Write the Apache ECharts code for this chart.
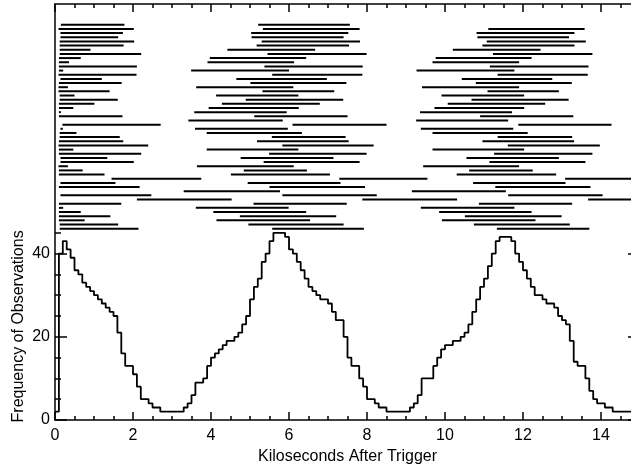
<!DOCTYPE html>
<html>
<head>
<meta charset="utf-8">
<script src="https://cdn.jsdelivr.net/npm/echarts@6/dist/echarts.min.js"></script>
<style>
html,body{margin:0;padding:0;background:#fff;}
#chart{width:631px;height:465px;}
</style>
</head>
<body>
<div id="chart"></div>
<script>
// ---------------- data ----------------
// x-axis tick labels (kiloseconds after trigger)
var xTicks = [0, 2, 4, 6, 8, 10, 12, 14];
// y-axis tick labels (frequency)
var yTicks = [0, 20, 40];

// histogram: frequency of observations, bins of 0.1 ks starting at 0
var binWidth = 0.1;
var freq = [
  2, 40, 43, 41, 39, 36, 35, 33, 32, 31,
  30, 29, 28, 27, 26, 25, 21, 16, 13, 13,
  11, 8, 5, 5, 4, 3, 3, 2, 2, 2,
  2, 2, 2, 3, 4, 6, 9, 9, 10, 13,
  15, 16, 17, 18, 19, 19, 20, 21, 23, 25,
  29, 32, 34, 38, 40, 43, 45, 45, 45, 44,
  41, 40, 38, 36, 34, 32, 31, 30, 29, 29,
  28, 26, 24, 24, 20, 15, 13, 13, 10, 8,
  5, 5, 4, 3, 3, 2, 2, 2, 2, 2,
  2, 3, 4, 6, 10, 10, 10, 13, 15, 17,
  18, 18, 19, 19, 20, 21, 23, 26, 29, 32,
  34, 37, 40, 43, 44, 44, 44, 43, 40, 38,
  36, 34, 32, 30, 30, 29, 28, 28, 27, 25,
  24, 23, 19, 14, 13, 13, 10, 7, 5, 4,
  4, 3, 3, 2, 2, 2, 2, 2
];

// observation intervals [start, end] in ks, one list per row, top row first
var rowTop = 95;
var obsRows = [
  [[0.15,1.78],[5.21,7.56]],
  [[0.09,2.02],[5.33,7.81],[11.11,13.58]],
  [[0.14,1.74],[5.03,7.52],[10.81,13.32]],
  [[0.14,1.62],[5.04,7.40],[10.83,13.18]],
  [[0.12,2.03],[5.30,7.82],[11.07,13.61]],
  [[0.12,1.76],[5.17,7.54],[10.96,13.32]],
  [[0.12,0.91],[4.42,6.67],[10.20,12.45]],
  [[0.12,2.21],[5.45,7.99],[11.23,13.78]],
  [[0.10,0.66],[3.97,6.44],[9.76,12.22]],
  [[0.10,0.36],[3.91,6.13],[9.68,11.90]],
  [[0.10,2.10],[5.37,7.89],[11.15,13.68]],
  [[0.10,0.21],[3.49,6.00],[9.27,11.78]],
  [[0.09,2.09],[5.57,7.88],[11.35,13.66]],
  [[0.14,1.20],[4.65,6.97],[10.43,12.75]],
  [[0.10,1.71],[5.01,7.47],[10.79,13.25]],
  [[0.09,0.33],[3.62,6.11],[9.41,11.90]],
  [[0.09,1.40],[5.32,7.16],[11.09,12.92]],
  [[0.12,0.50],[4.13,6.24],[9.91,12.03]],
  [[0.12,1.61],[4.89,7.39],[10.68,13.17]],
  [[0.10,1.01],[4.28,6.79],[10.07,12.57]],
  [[0.10,0.47],[3.94,6.25],[9.73,12.03]],
  [[0.10,0.15],[3.57,5.94],[9.36,11.72]],
  [[0.10,1.73],[5.11,7.50],[10.90,13.29]],
  [[3.42,5.84],[9.26,11.62]],
  [[0.19,2.71],[6.09,8.50],[11.88,14.27]],
  [[0.14,0.20],[3.59,5.97],[9.38,11.75]],
  [[0.12,0.55],[3.89,6.33],[9.68,12.12]],
  [[0.12,1.66],[5.56,7.45],[11.35,13.26]],
  [[0.10,1.75],[5.18,7.53],[10.96,13.31]],
  [[0.09,2.39],[5.83,8.17],[11.61,13.97]],
  [[0.10,0.47],[3.89,6.24],[9.68,12.03]],
  [[0.10,2.21],[5.49,7.99],[11.26,13.78]],
  [[0.14,1.34],[4.76,7.14],[10.55,12.92]],
  [[0.14,2.02],[5.35,7.81],[11.14,13.60]],
  [[0.09,0.33],[3.64,6.12],[9.44,11.90]],
  [[0.10,0.71],[4.84,6.46],[10.62,12.25]],
  [[0.10,1.27],[4.51,7.05],[10.30,12.85]],
  [[1.45,3.75],[7.29,9.55],[13.08,15.0]],
  [[0.14,1.55],[4.94,7.32],[10.72,13.09]],
  [[0.10,2.17],[5.50,7.95],[11.29,13.73]],
  [[3.30,5.77],[9.15,11.56]],
  [[0.14,2.47],[5.83,8.25],[11.62,14.04]],
  [[2.10,4.53],[7.88,10.31],[13.67,15.0]],
  [[0.10,1.70],[5.09,7.48],[10.87,13.26]],
  [[0.10,0.21],[3.61,5.99],[9.38,11.78]],
  [[0.10,0.66],[4.06,6.44],[9.85,12.22]],
  [[0.10,1.42],[4.74,7.21],[10.51,12.99]],
  [[0.10,0.76],[4.14,6.54],[9.92,12.32]],
  [[0.12,1.62],[4.96,7.40],[10.74,13.20]],
  [[0.12,2.14],[5.57,7.92],[11.33,13.70]]
];

// ---------------- build ----------------
var histData = freq.map(function (v, k) { return [+(k * binWidth).toFixed(2), v]; });
histData.push([+(freq.length * binWidth).toFixed(2), freq[freq.length - 1]]);

var segData = [];
obsRows.forEach(function (row, i) {
  row.forEach(function (s) { segData.push([s[0], s[1], rowTop - i]); });
});

var FONT = 'Liberation Sans, Arial, Helvetica, sans-serif';
var INK = '#000';
var PLOT_L = 55, PLOT_W = 585, Y0 = 420, PX_PER_UNIT = 4.16;

var chart = echarts.init(document.getElementById('chart'), null, {renderer: 'canvas'});

function hiddenX(gi) {
  return {gridIndex: gi, type: 'value', min: 0, max: 15, show: false};
}
function gridBox(units) {
  return {
    left: PLOT_L, top: Y0 - units * PX_PER_UNIT, width: PLOT_W, height: units * PX_PER_UNIT,
    containLabel: false, outerBoundsMode: 'none'
  };
}

var option = {
  animation: false,
  backgroundColor: '#fff',
  grid: [gridBox(100), gridBox(45), gridBox(40)],
  xAxis: [
    {
      gridIndex: 0, type: 'value', position: 'bottom', min: 0, max: 15, interval: 2,
      axisLine: {show: true, onZero: false, lineStyle: {color: INK, width: 1.5}},
      axisTick: {show: true, inside: true, length: 8, lineStyle: {color: INK, width: 1.5}},
      minorTick: {show: true, splitNumber: 4, length: 4, lineStyle: {color: INK, width: 1.5}},
      axisLabel: {
        show: true, color: INK, fontFamily: FONT, fontSize: 16, margin: 8,
        formatter: function (v) { return xTicks.indexOf(v) >= 0 ? String(v) : ''; }
      },
      splitLine: {show: false},
      name: 'Kiloseconds After Trigger', nameLocation: 'middle', nameGap: 26,
      nameTextStyle: {color: INK, fontFamily: FONT, fontSize: 16}
    },
    {
      gridIndex: 0, type: 'value', position: 'top', min: 0, max: 15, interval: 2,
      axisLine: {show: true, onZero: false, lineStyle: {color: INK, width: 1.5}},
      axisTick: {show: true, inside: true, length: 8, lineStyle: {color: INK, width: 1.5}},
      minorTick: {show: true, splitNumber: 4, length: 4, lineStyle: {color: INK, width: 1.5}},
      axisLabel: {show: false},
      splitLine: {show: false}
    },
    hiddenX(1),
    hiddenX(2)
  ],
  yAxis: [
    {
      gridIndex: 0, type: 'value', position: 'left', min: 0, max: 100,
      axisLine: {show: true, onZero: false, lineStyle: {color: INK, width: 1.5}},
      axisTick: {show: false}, axisLabel: {show: false}, splitLine: {show: false}
    },
    {
      gridIndex: 0, type: 'value', position: 'right', min: 0, max: 100,
      axisLine: {show: true, onZero: false, lineStyle: {color: INK, width: 1.5}},
      axisTick: {show: false}, axisLabel: {show: false}, splitLine: {show: false}
    },
    {
      gridIndex: 1, type: 'value', position: 'left', min: 0, max: 45, interval: 5,
      axisLine: {show: false},
      axisTick: {show: true, inside: true, length: 6, lineStyle: {color: INK, width: 1.5}},
      axisLabel: {show: false}, splitLine: {show: false},
      name: 'Frequency of Observations', nameLocation: 'middle', nameGap: 28,
      nameTextStyle: {color: INK, fontFamily: FONT, fontSize: 16}
    },
    {
      gridIndex: 2, type: 'value', position: 'left', min: 0, max: 40, interval: 20,
      axisLine: {show: false},
      axisTick: {show: true, inside: true, length: 12, lineStyle: {color: INK, width: 1.5}},
      axisLabel: {
        show: true, color: INK, fontFamily: FONT, fontSize: 16, margin: 5,
        formatter: function (v) { return yTicks.indexOf(v) >= 0 ? String(v) : ''; }
      },
      splitLine: {show: false}
    },
    {
      gridIndex: 2, type: 'value', position: 'right', min: 0, max: 40, interval: 20,
      axisLine: {show: false},
      axisTick: {show: true, inside: true, length: 12, lineStyle: {color: INK, width: 1.5}},
      axisLabel: {show: false}, splitLine: {show: false}
    }
  ],
  series: [
    {
      name: 'observations', type: 'custom', xAxisIndex: 0, yAxisIndex: 0,
      clip: true,
      encode: {x: [0, 1], y: 2},
      data: segData,
      renderItem: function (params, api) {
        var p0 = api.coord([api.value(0), api.value(2)]);
        var p1 = api.coord([api.value(1), api.value(2)]);
        return {
          type: 'line',
          shape: {x1: p0[0], y1: p0[1], x2: p1[0], y2: p1[1]},
          style: {stroke: INK, lineWidth: 2}
        };
      }
    },
    {
      name: 'frequency', type: 'line', xAxisIndex: 0, yAxisIndex: 0,
      step: 'end', showSymbol: false, symbol: 'none',
      lineStyle: {color: INK, width: 1.8},
      data: histData
    }
  ]
};
chart.setOption(option);
</script>
</body>
</html>
